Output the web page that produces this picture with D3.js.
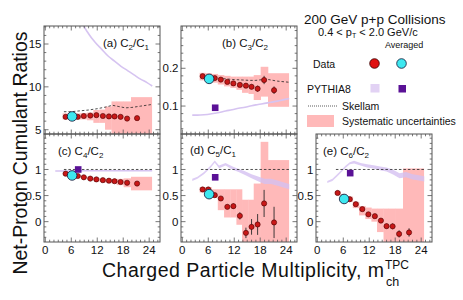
<!DOCTYPE html>
<html><head><meta charset="utf-8">
<script src="https://cdn.jsdelivr.net/npm/d3@7"></script>
<style>
body{margin:0;background:#fff;}
svg{display:block;font-family:"Liberation Sans",Arial,Helvetica,sans-serif;}
</style></head>
<body><svg id="chart" width="463" height="300"></svg>
<script>
// ---------- data ----------
const mult = [4.7, 6.0, 7.5, 8.9, 10.4, 11.8, 13.3, 14.7, 16.0, 17.4, 18.9, 21.2];
const sysEdges = [4.0, 5.35, 6.75, 8.2, 9.65, 11.1, 12.5, 13.8, 15.3, 16.5, 18.1, 19.8, 24.6];
const avgMult = 6.2;
const pyAvgMult = 7.6;
const pyMult = [2.3, 3.5, 5, 6.5, 7.5, 8.5, 10, 11.5, 13, 14.5, 16, 17.5, 19, 20.5, 22, 23.5, 24.7];
const skMult = [4.3, 6, 8, 10, 12, 14, 15.5, 17, 18.5, 20, 22, 24.7];

// (a) C2/C1
const c21 = [6.5, 6.5, 6.5, 6.6, 6.65, 6.7, 6.6, 6.55, 6.55, 6.5, 6.3, 6.35];
const c21Err = [0.03, 0.03, 0.03, 0.03, 0.04, 0.04, 0.05, 0.05, 0.06, 0.07, 0.08, 0.1];
const c21SysLo = [6.2, 6.2, 6.2, 6.2, 6.1, 5.8, 5.8, 5.0, 4.0, 4.0, 4.0, 3.0];
const c21SysHi = [6.9, 6.9, 6.9, 6.95, 7.0, 7.3, 7.35, 7.7, 8.3, 8.3, 8.3, 8.8];
const c21Avg = 6.55;
const c21Py = [36, 31, 26, 21.5, 19.5, 17.6, 16.2, 15.2, 14.4, 13.6, 13.0, 12.4, 11.9, 11.4, 10.9, 10.5, 10.1];
const c21PyAvg = 19.5;
const c21Sk = [7.1, 7.1, 7.2, 7.3, 7.45, 7.65, 7.85, 7.7, 7.55, 7.6, 7.75, 7.95];

// (b) C3/C2
const c32 = [0.179, 0.176, 0.174, 0.170, 0.164, 0.160, 0.156, 0.154, 0.151, 0.146, 0.169, 0.142];
const c32Err = [0.002, 0.002, 0.002, 0.002, 0.003, 0.003, 0.004, 0.005, 0.006, 0.008, 0.011, 0.01];
const c32SysLo = [0.168, 0.165, 0.162, 0.157, 0.152, 0.148, 0.143, 0.135, 0.132, 0.116, 0.125, 0.098];
const c32SysHi = [0.188, 0.187, 0.185, 0.182, 0.180, 0.178, 0.178, 0.178, 0.178, 0.182, 0.204, 0.187];
const c32Avg = 0.172;
const c32Py = [0.076, 0.076, 0.077, 0.079, 0.081, 0.083, 0.087, 0.090, 0.094, 0.097, 0.101, 0.104, 0.107, 0.110, 0.113, 0.117, 0.120];
const c32PyAvg = 0.0955;
const c32Sk = [0.179, 0.176, 0.174, 0.172, 0.170, 0.169, 0.168, 0.168, 0.170, 0.170, 0.166, 0.163];

// (c) C4/C2
const c42 = [0.92, 0.90, 0.875, 0.85, 0.825, 0.81, 0.795, 0.785, 0.775, 0.76, 0.745, 0.73];
const c42Err = [0.005, 0.005, 0.005, 0.006, 0.006, 0.007, 0.008, 0.009, 0.01, 0.012, 0.015, 0.02];
const c42SysLo = [0.90, 0.88, 0.855, 0.83, 0.80, 0.785, 0.765, 0.75, 0.735, 0.70, 0.66, 0.60];
const c42SysHi = [0.94, 0.92, 0.895, 0.87, 0.85, 0.835, 0.825, 0.82, 0.815, 0.82, 0.83, 0.86];
const c42Avg = 0.885;
const c42Py = [0.97, 0.97, 0.97, 0.97, 0.975, 0.975, 0.975, 0.975, 0.975, 0.975, 0.975, 0.975, 0.975, 0.975, 0.975, 0.975, 0.975];
const c42PyAvg = 1.0;
const c42Sk = [1, 1, 1, 1, 1, 1, 1, 1, 1, 1, 1, 1];

// (d) C5/C1
const c51 = [0.617, 0.617, 0.508, 0.444, 0.284, 0.297, 0.111, -0.215, -0.10, -0.054, 0.349, -0.015];
const c51Err = [0.02, 0.02, 0.02, 0.03, 0.04, 0.05, 0.07, 0.1, 0.15, 0.2, 0.26, 0.3];
const c51SysLo = [0.56, 0.56, 0.46, 0.22, 0.08, 0.08, -0.06, -0.6, -0.6, -0.6, -0.6, -0.6];
const c51SysHi = [0.66, 0.66, 0.62, 0.62, 0.62, 0.62, 0.62, 0.42, 0.42, 0.73, 1.53, 1.18];
const c51Avg = 0.527;
const c51Py = [0.8, 0.84, 0.93, 1.05, 1.15, 1.05, 1.1, 1.03, 0.98, 0.93, 0.87, 0.82, 0.77, 0.77, 0.74, 0.7, 0.67];
const c51PyAvg = 0.85;
const c51Sk = [1, 1, 1, 1, 1, 1, 1, 1, 1, 1, 1, 1];

// (e) C6/C2
const c62 = [0.55, 0.47, 0.43, 0.335, 0.24, 0.14, 0.105, 0.02, -0.086, -0.09, -0.235, -0.207];
const c62Err = [0.01, 0.01, 0.015, 0.015, 0.02, 0.025, 0.03, 0.035, 0.045, 0.055, 0.07, 0.08];
const c62SysLo = [0.52, 0.44, 0.38, 0.26, 0.12, 0.05, 0.0, -0.2, -0.6, -0.6, -0.6, -0.6];
const c62SysHi = [0.58, 0.52, 0.48, 0.38, 0.30, 0.27, 0.25, 0.25, 0.25, 0.25, 0.25, 1.02];
const c62Avg = 0.435;
const c62Py = [0.76, 0.8, 0.92, 1.05, 1.12, 1.14, 1.1, 1.07, 1.05, 1.02, 1.0, 0.95, 0.88, 0.9, 0.86, 0.84, 0.82];
const c62PyAvg = 0.93;
const c62Sk = [1, 1, 1, 1, 1, 1, 1, 1, 1, 1, 1, 1];

const pyBandHalf = [0.02, 0.02, 0.02, 0.02, 0.02, 0.025, 0.025, 0.03, 0.03, 0.035, 0.04, 0.045, 0.05, 0.05, 0.05, 0.05, 0.05];

const xTicks = [0, 6, 12, 18, 24];

// ---------- layout / style ----------
const PW = 116, PH = 108;
const colX = [44, 181, 316];
const rowY = [26, 134];
const xDomain = [-0.3, 26.5];
const colors = {
  sys: "#ffb9b9", py: "#d6c4f1", pyBand: "#d4c0f1", pySq: "#5a1196",
  red: "#c81818", redStroke: "#4a0000", cyan: "#3ee8f0", frame: "#555"
};

const panels = [
  {tag:"(a) C", n:"2", d:"1", col:0, row:0, v:c21, e:c21Err, lo:c21SysLo, hi:c21SysHi, avg:c21Avg, py:c21Py, pyAvg:c21PyAvg, sk:c21Sk,
   yDom:[4.5, 17.1], yMaj:[5,10,15], yMin:1, fmt:d=>String(d), band:false, lab:[103,47]},
  {tag:"(b) C", n:"3", d:"2", col:1, row:0, v:c32, e:c32Err, lo:c32SysLo, hi:c32SysHi, avg:c32Avg, py:c32Py, pyAvg:c32PyAvg, sk:c32Sk,
   yDom:[0.026, 0.312], yMaj:[0.1,0.2], yMin:0.02, fmt:d=>d.toFixed(1), band:false, lab:[222,47]},
  {tag:"(c) C", n:"4", d:"2", col:0, row:1, v:c42, e:c42Err, lo:c42SysLo, hi:c42SysHi, avg:c42Avg, py:c42Py, pyAvg:c42PyAvg, sk:c42Sk,
   yDom:[-0.39, 1.68], yMaj:[0,0.5,1], yMin:0.1, fmt:d=>String(d), band:false, lab:[58,155]},
  {tag:"(d) C", n:"5", d:"1", col:1, row:1, v:c51, e:c51Err, lo:c51SysLo, hi:c51SysHi, avg:c51Avg, py:c51Py, pyAvg:c51PyAvg, sk:c51Sk,
   yDom:[-0.39, 1.68], yMaj:[0,0.5,1], yMin:0.1, fmt:d=>String(d), band:true, lab:[190,154]},
  {tag:"(e) C", n:"6", d:"2", col:2, row:1, v:c62, e:c62Err, lo:c62SysLo, hi:c62SysHi, avg:c62Avg, py:c62Py, pyAvg:c62PyAvg, sk:c62Sk,
   yDom:[-0.39, 1.68], yMaj:[0,0.5,1], yMin:0.1, fmt:d=>String(d), band:true, lab:[323,155]}
];

const svg = d3.select("#chart");
const defs = svg.append("defs");

panels.forEach((p, pi) => {
  const x0 = colX[p.col], y0 = rowY[p.row];
  const x = d3.scaleLinear().domain(xDomain).range([x0, x0 + PW]);
  const y = d3.scaleLinear().domain(p.yDom).range([y0 + PH, y0]);
  const cid = "clip" + pi;
  defs.append("clipPath").attr("id", cid).append("rect")
    .attr("x", x0).attr("y", y0).attr("width", PW).attr("height", PH);
  const g = svg.append("g").attr("clip-path", `url(#${cid})`);

  // systematic boxes
  g.selectAll("rect.sys").data(mult).join("rect").attr("class","sys")
    .attr("x", (d,i) => x(sysEdges[i]))
    .attr("width", (d,i) => x(sysEdges[i+1]) - x(sysEdges[i]) + 0.3)
    .attr("y", (d,i) => y(p.hi[i]))
    .attr("height", (d,i) => y(p.lo[i]) - y(p.hi[i]))
    .attr("fill", colors.sys);

  // PYTHIA8
  if (p.band) {
    const area = d3.area().x((d,i) => x(pyMult[i]))
      .y0((d,i) => y(d - pyBandHalf[i])).y1((d,i) => y(d + pyBandHalf[i]));
    g.append("path").datum(p.py).attr("d", area)
      .attr("fill", colors.pyBand).attr("fill-opacity", 0.8);
  } else {
    const line = d3.line().x((d,i) => x(pyMult[i])).y(d => y(d)).curve(d3.curveMonotoneX);
    g.append("path").datum(p.py).attr("d", line)
      .attr("fill","none").attr("stroke", colors.py).attr("stroke-width", 1.6);
  }

  // Skellam
  const skLine = d3.line().x((d,i) => x(skMult[i])).y(d => y(d));
  g.append("path").datum(p.sk).attr("d", skLine)
    .attr("fill","none").attr("stroke","#222").attr("stroke-width",0.8).attr("stroke-dasharray","2.5,2");

  // error bars
  g.selectAll("line.err").data(p.v).join("line").attr("class","err")
    .attr("x1",(d,i)=>x(mult[i])).attr("x2",(d,i)=>x(mult[i]))
    .attr("y1",(d,i)=>y(d - p.e[i])).attr("y2",(d,i)=>y(d + p.e[i]))
    .attr("stroke","#2a2a2a").attr("stroke-width",0.9);

  // data points
  g.selectAll("circle.pt").data(p.v).join("circle").attr("class","pt")
    .attr("cx",(d,i)=>x(mult[i])).attr("cy",d=>y(d)).attr("r",2.6)
    .attr("fill",colors.red).attr("stroke",colors.redStroke).attr("stroke-width",0.6);

  // averaged
  g.append("circle").attr("cx", x(avgMult)).attr("cy", y(p.avg)).attr("r", 4.8)
    .attr("fill", colors.cyan).attr("stroke","#113").attr("stroke-width",0.8);

  // PYTHIA averaged
  g.append("rect").attr("x", x(pyAvgMult)-3.3).attr("y", y(p.pyAvg)-3.3)
    .attr("width",6.6).attr("height",6.6).attr("fill",colors.pySq);

  // frame
  svg.append("rect").attr("x",x0).attr("y",y0).attr("width",PW).attr("height",PH)
    .attr("fill","none").attr("stroke",colors.frame).attr("stroke-width",1);

  // ticks
  const tg = svg.append("g").attr("stroke",colors.frame).attr("stroke-width",0.8);
  const xMinor = d3.range(0, 26.01, 1);
  xMinor.forEach(t => {
    const L = (t % 6 === 0) ? 4.5 : 2.3;
    const xx = x(t);
    tg.append("line").attr("x1",xx).attr("x2",xx).attr("y1",y0+PH).attr("y2",y0+PH-L);
    tg.append("line").attr("x1",xx).attr("x2",xx).attr("y1",y0).attr("y2",y0+L);
  });
  const yMinor = d3.range(Math.ceil(p.yDom[0]/p.yMin)*p.yMin, p.yDom[1], p.yMin);
  yMinor.forEach(t => {
    const isMaj = p.yMaj.some(m => Math.abs(m - t) < 1e-6);
    const L = isMaj ? 4.5 : 2.3;
    const yy = y(t);
    tg.append("line").attr("x1",x0).attr("x2",x0+L).attr("y1",yy).attr("y2",yy);
    tg.append("line").attr("x1",x0+PW).attr("x2",x0+PW-L).attr("y1",yy).attr("y2",yy);
  });

  // y tick labels
  svg.append("g").selectAll("text").data(p.yMaj).join("text")
    .attr("x", x0 - 2.5).attr("y", d => y(d)).attr("dy","0.36em")
    .attr("text-anchor","end").attr("font-size",11.5).attr("fill","#111")
    .text(p.fmt);

  // x tick labels
  if (p.row === 1) {
    svg.append("g").selectAll("text").data(xTicks).join("text")
      .attr("x", d => x(d)).attr("y", y0 + PH + 11.5)
      .attr("text-anchor","middle").attr("font-size",11.5).attr("fill","#111")
      .text(d => d);
  }

  // panel label
  const lt = svg.append("text").attr("x", p.lab[0]).attr("y", p.lab[1])
    .attr("font-size", 11.5).attr("fill","#111");
  lt.append("tspan").text(p.tag);
  lt.append("tspan").attr("font-size",8).attr("dy",3).text(p.n);
  lt.append("tspan").attr("dy",-3).text("/C");
  lt.append("tspan").attr("font-size",8).attr("dy",3).text(p.d);
});

// axis titles
svg.append("text").attr("transform","translate(26.5,153) rotate(-90)")
  .attr("text-anchor","middle").attr("font-size",19.5).attr("fill","#111")
  .attr("textLength",243).attr("lengthAdjust","spacing")
  .text("Net-Proton Cumulant Ratios");

const xtW = 282;
svg.append("text").attr("x",102).attr("y",277).attr("font-size",19.5).attr("fill","#111")
  .attr("textLength",xtW).attr("lengthAdjust","spacing")
  .text("Charged Particle Multiplicity, m");
svg.append("text").attr("x",102 + xtW + 2).attr("y",285.5).attr("font-size",12.5).attr("fill","#111").text("ch");
svg.append("text").attr("x",102 + xtW + 1).attr("y",268.5).attr("font-size",12).attr("fill","#111").text("TPC");

// legend
const lg = svg.append("g").attr("fill","#111");
lg.append("text").attr("x",304).attr("y",24).attr("font-size",13.5).text("200 GeV p+p Collisions");
const pt = lg.append("text").attr("x",318).attr("y",36).attr("font-size",11);
pt.append("tspan").text("0.4 <  p");
pt.append("tspan").attr("font-size",7).attr("dy",2).text("T");
pt.append("tspan").attr("dy",-2).text(" < 2.0 GeV/c");
lg.append("text").attr("x",385).attr("y",48).attr("font-size",9).text("Averaged");
lg.append("text").attr("x",313).attr("y",68).attr("font-size",10.5).text("Data");
lg.append("circle").attr("cx",374.5).attr("cy",63.5).attr("r",4.8).attr("fill","#e01010").attr("stroke","#300").attr("stroke-width",0.8);
lg.append("circle").attr("cx",401.5).attr("cy",63.5).attr("r",4.8).attr("fill",colors.cyan).attr("stroke","#113").attr("stroke-width",0.8);
lg.append("text").attr("x",307).attr("y",93).attr("font-size",10.5).text("PYTHIA8");
lg.append("rect").attr("x",370.5).attr("y",84).attr("width",9).attr("height",8.5).attr("fill","#e2d2f4");
lg.append("rect").attr("x",398.5).attr("y",85).attr("width",7.5).attr("height",7.5).attr("fill",colors.pySq);
lg.append("line").attr("x1",308).attr("x2",337).attr("y1",106).attr("y2",106)
  .attr("stroke","#333").attr("stroke-width",0.8).attr("stroke-dasharray","1,1");
lg.append("text").attr("x",342).attr("y",109.5).attr("font-size",10.5).text("Skellam");
lg.append("rect").attr("x",307).attr("y",115).attr("width",27).attr("height",12).attr("fill",colors.sys);
lg.append("text").attr("x",342).attr("y",125).attr("font-size",10.5).text("Systematic uncertainties");
</script>
</body></html>
